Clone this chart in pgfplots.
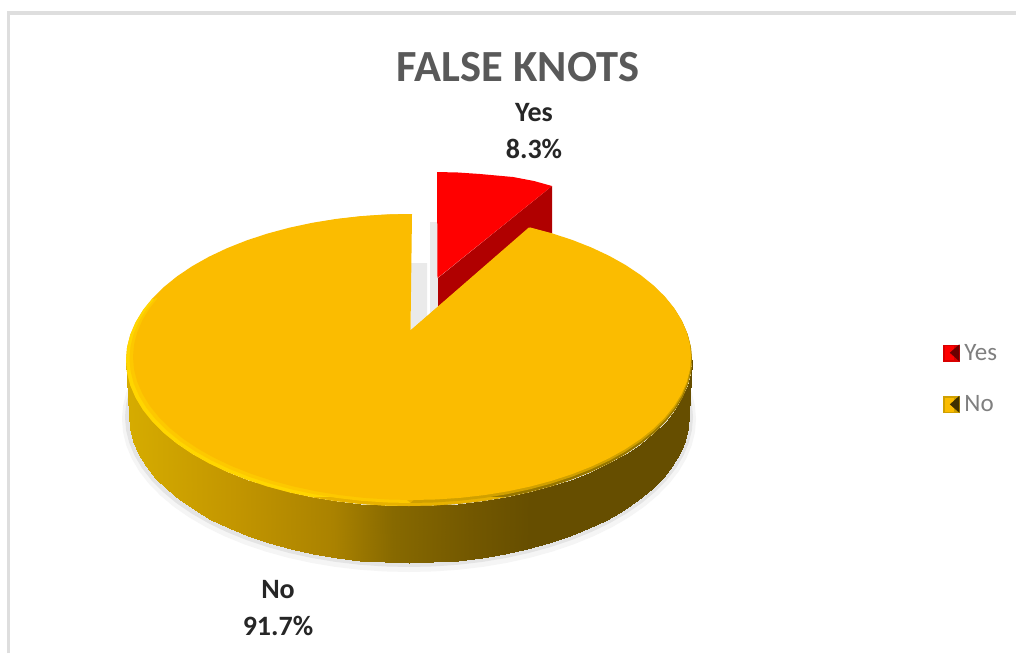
\documentclass[border=0pt]{standalone}
\usepackage{pgfplots}
\usepackage{pgfplotstable}
\usepackage{fontspec}
\setmainfont{Carlito}
\pgfplotsset{compat=1.18}

\definecolor{faceNo}{RGB}{251,188,0}
\definecolor{rimLight}{RGB}{255,214,0}
\definecolor{rimLightSoft}{RGB}{253,200,0}
\definecolor{rimMid}{RGB}{232,178,0}
\definecolor{rimDark}{RGB}{150,118,0}
\definecolor{rimDarkSoft}{RGB}{208,160,0}
\definecolor{faceYes}{RGB}{255,0,0}
\definecolor{sideYes}{RGB}{176,0,0}

% Rim of a slice on the unit circle, clockwise from the edge of the gap; last row is the apex
\pgfplotstableread{
u v
.4226 -.9063
.5 -.866
.5736 -.8192
.6428 -.766
.7071 -.7071
.766 -.6428
.8192 -.5736
.866 -.5
.9063 -.4226
.9397 -.342
.9659 -.2588
.9848 -.1736
.9962 -.0872
1 0
.9962 .0872
.9848 .1736
.9659 .2588
.9397 .342
.9063 .4226
.866 .5
.8192 .5736
.766 .6428
.7071 .7071
.6428 .766
.5736 .8192
.5 .866
.4226 .9063
.342 .9397
.2588 .9659
.1736 .9848
.0872 .9962
0 1
-.0872 .9962
-.1736 .9848
-.2588 .9659
-.342 .9397
-.4226 .9063
-.5 .866
-.5736 .8192
-.6428 .766
-.7071 .7071
-.766 .6428
-.8192 .5736
-.866 .5
-.9063 .4226
-.9397 .342
-.9659 .2588
-.9848 .1736
-.9962 .0872
-1 0
-.9962 -.0872
-.9848 -.1736
-.9659 -.2588
-.9397 -.342
-.9063 -.4226
-.866 -.5
-.8192 -.5736
-.766 -.6428
-.7071 -.7071
-.6428 -.766
-.5736 -.8192
-.5 -.866
-.4226 -.9063
-.342 -.9397
-.2588 -.9659
-.1736 -.9848
-.0872 -.9962
0 -1
-.0054 -.185
}\rimtable

% Outer wall of the disc: top and bottom edge, left to right along the front
\pgfplotstableread{
x y
126 360
129 415
127.1 372.7
130.1 427.9
130.3 385.4
133.3 440.7
135.7 397.8
138.5 453.3
143.1 409.9
145.9 465.6
152.5 421.7
155.2 477.5
163.9 433
166.5 489
177.2 443.7
179.6 499.9
192.2 453.8
194.5 510.1
208.9 463.2
211 519.7
227.1 471.8
229 528.4
246.7 479.6
248.4 536.2
267.5 486.4
269 543.2
289.4 492.3
290.7 549.1
312.2 497.2
313.2 554.1
335.8 501
336.5 558
359.9 503.8
360.4 560.8
384.3 505.4
384.6 562.4
409 506
409 563
433.7 505.4
433.4 562.4
458.1 503.8
457.6 560.8
482.2 501
481.5 558
505.8 497.2
504.8 554.1
528.6 492.3
527.3 549.1
550.5 486.4
549 543.2
571.3 479.6
569.6 536.2
590.9 471.8
589 528.4
609.1 463.2
607 519.7
625.8 453.8
623.5 510.1
640.8 443.7
638.4 499.9
654.1 433
651.5 489
665.5 421.7
662.8 477.5
674.9 409.9
672.1 465.6
682.3 397.8
679.5 453.3
687.7 385.4
684.7 440.7
690.9 372.7
687.9 427.9
692 360
689 415
}\walltable

\pgfplotsset{
  ellipse at/.style n args={4}{/pgfplots/table/x expr={#1+#2*\thisrow{u}}, /pgfplots/table/y expr={#3+#4*\thisrow{v}}},
  rows from to/.style 2 args={/pgfplots/skip coords between index={0}{#1}, /pgfplots/skip coords between index={#2}{100}},
}

\begin{document}
\begin{tikzpicture}
\begin{axis}[
  scale only axis, width=1016pt, height=653pt,
  xmin=0, xmax=1016, ymin=0, ymax=653, y dir=reverse,
  hide axis, clip=true,
  every axis plot/.append style={no markers, forget plot},
  colormap={wall}{
    rgb255(126)=(214,172,0) rgb255(233)=(195,150,0) rgb255(333)=(170,130,0)
    rgb255(393)=(135,105,0) rgb255(470)=(115,88,0) rgb255(530)=(102,78,0) rgb255(692)=(102,78,0)},
  point meta min=126, point meta max=692,
  legend style={
    at={(axis cs:943,344)}, anchor=north west, draw=none, fill=none,
    font=\fontsize{25}{27}\selectfont\color[RGB]{127,127,127},
    row sep=34pt, inner sep=0pt, outer sep=0pt,
    /tikz/every odd column/.append style={column sep=5pt},
    nodes={inner sep=0pt, anchor=west},
  },
  legend cell align=left,
]

% White page behind everything, spanning the full plot area
\addplot[fill=white, draw=none] coordinates {(0,0) (1016,0) (1016,653) (0,653)};

% Chart frame
\addplot[draw={rgb,255:red,222;green,222;blue,222}, line width=3.5pt] coordinates {(8.7,653) (8.7,13) (1016,13)};

% Drop shadow beneath the disc
\addplot[fill={rgb,255:red,245;green,245;blue,245}, draw=none, rows from to={7}{56}] table[ellipse at={409}{287}{419}{153}] {\rimtable};
\addplot[fill={rgb,255:red,228;green,228;blue,228}, draw=none, rows from to={7}{56}] table[ellipse at={409}{284}{417}{150}] {\rimtable};

% Shadows seen through the gap
\addplot[fill={rgb,255:red,234;green,234;blue,234}, draw=none] coordinates {(430,222) (438,222) (438,307) (430,314)};
\addplot[fill={rgb,255:red,234;green,234;blue,234}, draw=none] coordinates {(411,263) (427,263) (427,318) (411,332)};

% Pulled-out slice, 8.3 %
\addplot[fill=sideYes, draw=none] coordinates {(552,186) (552,240) (438,340) (438,278)};
\addplot[fill=faceYes, draw=none] coordinates {(437,172) (458,172.5) (480,174) (513,177) (534,181) (552,186) (437.5,278)};

% Outer wall of the large slice
\addplot[surf, shader=interp, mesh/cols=2, mesh/rows=37, point meta=x] table {\walltable};

% Bevel along the edge of the large slice, outer step
\addplot[fill=faceNo, draw=none] table[ellipse at={409}{283}{360}{146}] {\rimtable};
\addplot[fill=rimDark, draw=none, rows from to={7}{32}] table[ellipse at={409}{283}{360}{146}] {\rimtable};
\addplot[fill=rimLight, draw=none, rows from to={31}{55}] table[ellipse at={409}{283}{360}{146}] {\rimtable};
\addplot[fill=rimMid, draw=none, rows from to={27}{36}] table[ellipse at={409}{283}{360}{146}] {\rimtable};

% Bevel, inner step
\addplot[fill=rimDarkSoft, draw=none, rows from to={7}{32}] table[ellipse at={410.5}{281}{358.5}{144.5}] {\rimtable};
\addplot[fill=rimLightSoft, draw=none, rows from to={31}{55}] table[ellipse at={410.5}{281}{358.5}{144.5}] {\rimtable};

% Top of the large slice, 91.7 %
\addplot[fill=faceNo, draw=none] table[ellipse at={412}{279}{357}{143}] {\rimtable};

% Legend swatches
\addlegendimage{legend image code/.code={
  \fill[red!85!black] (0pt,-8pt) rectangle (16pt,8pt);
  \fill[red] (1.5pt,-6.5pt) rectangle (10pt,6.5pt);
  \fill[sideYes!60!black] (16pt,-8pt) -- (7pt,0pt) -- (16pt,8pt) -- cycle;
}}
\addlegendentry{Yes}
\addlegendimage{legend image code/.code={
  \fill[rimDarkSoft] (0pt,-8pt) rectangle (16pt,8pt);
  \fill[faceNo] (1.5pt,-6.5pt) rectangle (10pt,6.5pt);
  \fill[black!70!rimDarkSoft] (16pt,-8pt) -- (7pt,0pt) -- (16pt,8pt) -- cycle;
}}
\addlegendentry{No}

% Title and data labels
\node[font=\fontsize{44.5}{48}\selectfont\bfseries, text={rgb,255:red,89;green,89;blue,89}] at (axis cs:518,67) {FALSE KNOTS};
\node[font=\fontsize{28}{30}\selectfont\bfseries, text=black!85] at (axis cs:534,113) {Yes};
\node[font=\fontsize{28}{30}\selectfont\bfseries, text=black!85] at (axis cs:534,149) {8.3\%};
\node[font=\fontsize{28}{30}\selectfont\bfseries, text=black!85] at (axis cs:278,590) {No};
\node[font=\fontsize{28}{30}\selectfont\bfseries, text=black!85] at (axis cs:278,626) {91.7\%};
\end{axis}
\end{tikzpicture}
\end{document}
